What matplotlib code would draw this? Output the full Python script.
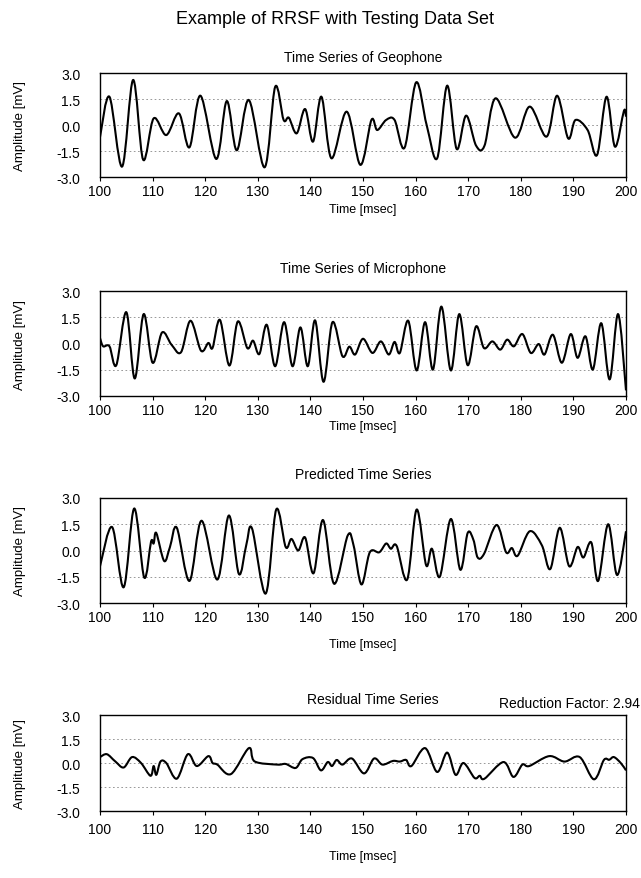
import numpy as np
import matplotlib
matplotlib.use("Agg")
import matplotlib.pyplot as plt
from matplotlib.path import Path
from matplotlib.patches import PathPatch

plt.rcParams['font.family'] = ['Liberation Sans', 'DejaVu Sans']

# values (peaks, troughs and shoulders), time in msec
geo_t = [100, 101.8, 104.2, 106.3, 108.2, 110.2, 112.6, 115.0, 117.0, 119.1, 122.1, 124.1, 126.0,
         128.3, 131.3, 133.3, 134.9, 135.9, 137.4, 139.0, 140.5, 142.1, 144.0, 146.9, 149.5,
         151.6, 152.7, 154.4, 156.0, 157.9, 160.1, 162.1, 164.1, 166.0, 167.8, 169.6, 171.5,
         173.1, 175.2, 178.9, 181.7, 184.9, 186.9, 189.0, 190.4, 192.7, 194.5, 196.3, 197.9,
         199.6, 200]
geo_v = [-0.7, 1.63, -2.4, 2.6, -2.0, 0.38, -0.58, 0.67, -1.29, 1.69, -1.96, 1.38, -1.46,
         1.44, -2.44, 2.2, 0.3, 0.42, -0.48, 0.92, -0.96, 1.63, -1.92, 0.77, -2.3,
         0.29, -0.29, 0.29, 0.29, -1.31, 2.46, 0.0, -1.92, 2.27, -1.38, 0.54, -1.19,
         -1.19, 1.54, -0.73, 1.06, -0.67, 1.69, -0.77, 0.29, -0.29, -1.73, 1.63, -1.25,
         0.81, 0.48]

mic_t = [100, 100.6, 101.8, 103.1, 105.0, 106.6, 108.3, 110.0, 111.8, 113.6, 115.4, 117.2,
         119.2, 120.6, 121.4, 122.8, 124.6, 126.2, 128.0, 129.1, 130.3, 131.7, 133.3, 135.0,
         136.6, 138.1, 139.5, 140.9, 142.5, 144.2, 146.1, 147.4, 148.5, 150.0, 151.8, 153.4,
         154.9, 156.0, 157.0, 158.6, 160.2, 161.8, 163.3, 164.9, 166.7, 168.3, 169.9, 171.5,
         173.0, 174.6, 176.1, 177.4, 178.7, 180.3, 181.9, 183.4, 184.5, 186.1, 187.8, 189.5,
         190.8, 192.3, 193.7, 195.3, 196.9, 198.5, 200]
mic_v = [0.31, -0.16, -0.16, -1.24, 1.79, -2.0, 1.68, -1.1, 0.63, -0.07, -0.5, 1.3,
         -0.41, 0.03, -0.25, 1.35, -1.26, 1.26, -0.26, 0.16, -0.6, 1.07, -1.3, 1.22,
         -1.3, 0.92, -1.3, 1.32, -2.19, 1.22, -0.73, -0.18, -0.63, 0.27, -0.54, 0.12,
         -0.63, 0.09, -0.54, 1.3, -1.54, 1.22, -1.49, 2.11, -1.54, 1.68, -1.24, 0.98,
         -0.26, 0.12, -0.35, 0.22, -0.16, 0.54, -0.54, -0.03, -0.63, 0.5, -1.1, 0.54,
         -0.82, 0.41, -1.49, 1.16, -2.05, 1.68, -2.68]

pred_t = [100, 102.3, 104.5, 106.5, 108.4, 109.7, 110.2, 110.7, 112.2, 113.3, 114.6, 117.0,
          119.3, 122.3, 124.5, 126.4, 127.8, 128.9, 131.5, 133.5, 135.3, 136.4, 137.7, 139.0,
          140.6, 142.4, 144.5, 147.1, 148.2, 149.7, 151.3, 153.1, 154.4, 155.3, 156.4, 158.4,
          160.2, 162.0, 163.1, 164.6, 166.7, 168.5, 169.9, 171.0, 171.8, 173.0, 175.4, 177.2,
          178.3, 179.4, 181.7, 184.0, 185.6, 187.4, 189.2, 190.8, 191.9, 193.4, 194.7, 196.6,
          198.3, 200]
pred_v = [-0.9, 1.34, -2.1, 2.4, -1.54, 0.5, 0.4, 1.0, -0.6, 0.2, 1.3, -1.74,
          1.7, -1.66, 2.0, -1.34, 0.3, 1.26, -2.46, 2.34, 0.2, 0.66, 0.0, 0.74,
          -1.3, 1.74, -1.9, 0.86, 0.3, -1.94, -0.1, -0.1, 0.4, 0.1, 0.26, -1.66,
          2.34, -0.84, 0.1, -1.5, 1.8, -1.1, 1.0, 0.6, -0.4, -0.2, 1.46, -0.1,
          0.14, -0.3, 1.1, 0.3, -1.06, 1.3, -0.9, 0.2, -0.4, 0.46, -1.74, 1.5,
          -1.4, 1.1]

res_t = [100, 101.3, 102.9, 104.5, 106.1, 107.8, 109.6, 110.2, 110.7, 111.5, 112.6, 114.6,
         116.7, 118.4, 120.6, 121.4, 122.3, 124.9, 128.3, 129.4, 133.7, 135.3, 137.2, 138.5,
         140.5, 142.0, 143.3, 144.1, 145.0, 146.1, 147.9, 150.2, 152.1, 153.7, 155.7, 157.0,
         158.2, 159.2, 161.8, 164.1, 166.0, 167.6, 169.1, 171.2, 172.2, 173.1, 176.7, 178.6,
         180.3, 181.6, 185.4, 188.3, 191.2, 193.9, 195.8, 196.8, 197.7, 199.0, 200]
res_v = [0.37, 0.55, 0.1, -0.28, 0.37, 0.0, -0.8, -0.19, -0.74, 0.09, 0.0, -0.98,
         0.55, -0.19, 0.43, 0.0, -0.1, -0.69, 0.93, 0.1, -0.1, -0.06, -0.31, 0.24,
         0.31, -0.46, 0.06, -0.19, 0.19, -0.1, 0.28, -0.65, 0.28, -0.1, 0.13, 0.09,
         0.19, -0.19, 0.93, -0.56, 0.65, -0.74, 0.0, -0.93, -0.8, -0.98, 0.06, -0.87,
         -0.1, -0.19, 0.43, 0.09, 0.37, -1.02, 0.19, 0.2, 0.37, 0.0, -0.46]

titles = ["Time Series of Geophone", "Time Series of Microphone",
          "Predicted Time Series", "Residual Time Series"]
series = [(geo_t, geo_v), (mic_t, mic_v), (pred_t, pred_v), (res_t, res_v)]
yticks = [-3.0, -1.5, 0.0, 1.5, 3.0]
xticks = np.arange(100, 201, 10)


def smooth_line(ax, xs, ys, **kw):
    # spreadsheet-style "smoothed line": bezier segments through the data points
    p = np.column_stack([xs, ys]).astype(float)
    p_ext = np.vstack([p[0], p, p[-1]])
    verts = [p[0]]
    codes = [Path.MOVETO]
    for i in range(len(p) - 1):
        a, b, c, d = p_ext[i], p_ext[i + 1], p_ext[i + 2], p_ext[i + 3]
        verts += [b + (c - a) / 6.0, c - (d - b) / 6.0, c]
        codes += [Path.CURVE4] * 3
    ax.add_patch(PathPatch(Path(verts, codes), fill=False, **kw))


W, H = 641, 879
fig = plt.figure(figsize=(W / 100, H / 100), dpi=100)
fig.patch.set_facecolor('white')

# axes boxes in pixels: left, top, right, bottom
boxes = [(100, 74, 626, 178), (100, 292, 626, 397), (100, 499, 626, 604), (100, 716, 626, 812)]
title_pos = [(363, 58), (363, 269), (363, 475), (373, 700)]
xlabel_y = [210, 427, 645, 857]
xpad = [2, 2, 2, 5]

fig.text(335 / W, 1 - 20 / H, "Example of RRSF with Testing Data Set",
         ha='center', va='center', fontsize=13)

for i, ((l, t, r, b), name, (xs, ys)) in enumerate(zip(boxes, titles, series)):
    ax = fig.add_axes([l / W, 1 - b / H, (r - l) / W, (b - t) / H])
    smooth_line(ax, xs, ys, edgecolor='black', lw=1.5, joinstyle='round')
    ax.set_xlim(100, 200)
    ax.set_ylim(-3, 3)
    ax.set_xticks(xticks)
    ax.set_yticks(yticks)
    ax.set_yticklabels(["%.1f" % v for v in yticks])
    for y in [-1.5, 0, 1.5]:
        ax.axhline(y, color='#888888', lw=0.6, ls=(0, (2, 3)), zorder=0)
    ax.tick_params(axis='both', labelsize=10, length=3, width=0.8, direction='out')
    ax.tick_params(axis='x', pad=xpad[i])
    ax.tick_params(axis='y', length=0, pad=14)
    for s in ax.spines.values():
        s.set_linewidth(1.0)
    ax.set_ylabel("Amplitude [mV]", fontsize=9.5, labelpad=22)
    fig.text(363 / W, 1 - xlabel_y[i] / H, "Time [msec]", ha='center', va='center', fontsize=9)
    tx, ty = title_pos[i]
    fig.text(tx / W, 1 - ty / H, name, ha='center', va='center', fontsize=10)

fig.text(640 / W, 1 - 704 / H, "Reduction Factor: 2.94", ha='right', va='center', fontsize=10)

fig.savefig("out.png", dpi=100)
